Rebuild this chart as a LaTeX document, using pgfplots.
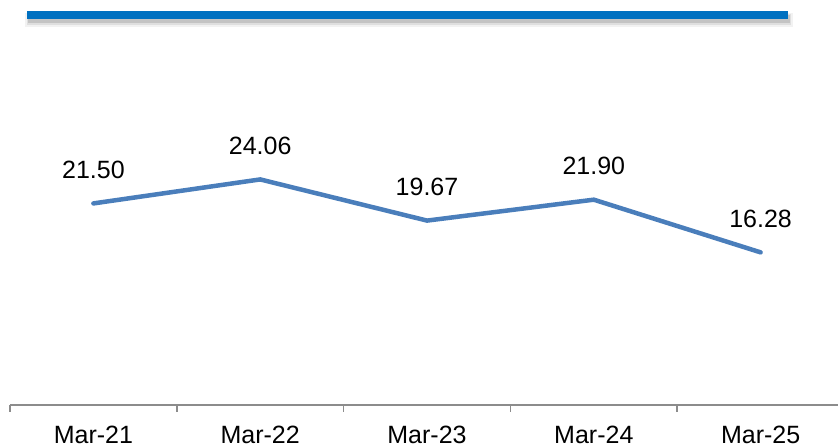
\documentclass[border=0pt]{standalone}
\usepackage{fontspec}
\setmainfont{Liberation Sans}
\usepackage{pgfplots}
\pgfplotsset{compat=1.18}
\definecolor{linecol}{HTML}{4A7EBB}
\definecolor{barcol}{HTML}{0070C0}
\definecolor{axcol}{HTML}{8C8C8C}
\begin{document}
\begin{tikzpicture}[x=1bp,y=1bp]
\useasboundingbox (0,0) rectangle (838,448);
% top banner with soft shadow
\fill[black,opacity=0.05] (25,448-27) rectangle (793,448-13);
\fill[black,opacity=0.08] (27,448-25) rectangle (791,448-14);
\fill[black,opacity=0.12] (28,448-23) rectangle (790,448-15);
\fill[barcol] (27,448-19) rectangle (788,448-11);
\begin{axis}[
  at={(10bp,43bp)}, anchor=south west,
  scale only axis, width=828bp, height=375bp,
  xmin=-0.5, xmax=4.464, ymin=0, ymax=40,
  axis x line*=bottom, axis y line=none,
  x axis line style={axcol, line width=1.5bp, -},
  xtick={0,1,2,3,4},
  xticklabels={Mar-21,Mar-22,Mar-23,Mar-24,Mar-25},
  major tick length=0pt,
  minor xtick={-0.5,0.5,1.5,2.5,3.5},
  minor tick length=7bp,
  xtick align=outside,
  every minor tick/.style={axcol, line width=1.5bp},
  xticklabel style={font=\fontsize{25bp}{30bp}\selectfont, anchor=base, yshift=-39bp, inner sep=0pt},
  clip=false,
  point meta=y,
  nodes near coords={\pgfmathprintnumber[fixed,fixed zerofill,precision=2,assume math mode=true]{\pgfplotspointmeta}},
  nodes near coords style={font=\fontsize{25bp}{30bp}\selectfont, anchor=base, yshift=25bp, inner sep=0pt, text=black},
]
\addplot[linecol, line width=4.5bp, line cap=round, mark=none] coordinates {
  (0,21.50) (1,24.06) (2,19.67) (3,21.90) (4,16.28)
};
\end{axis}
\end{tikzpicture}
\end{document}
